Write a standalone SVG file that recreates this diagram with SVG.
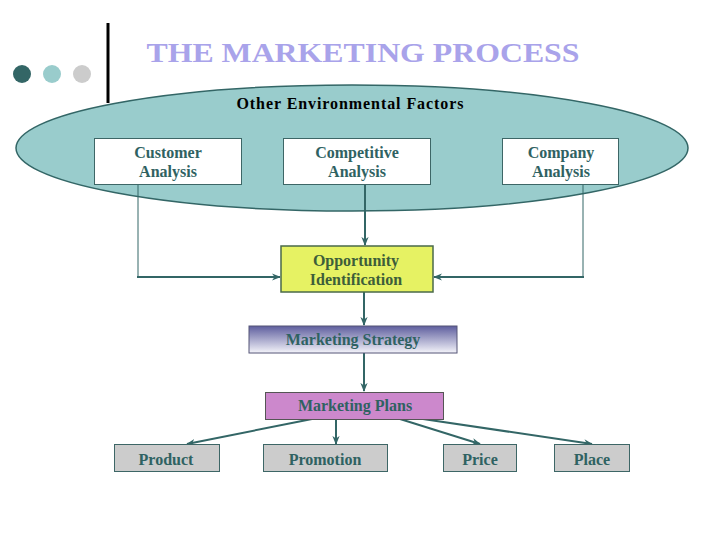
<svg xmlns="http://www.w3.org/2000/svg" width="720" height="540" viewBox="0 0 720 540">
<defs>
<linearGradient id="gStrat" x1="0" y1="0" x2="0" y2="1">
<stop offset="0" stop-color="#5e5e9e"/>
<stop offset="1" stop-color="#f4f4fa"/>
</linearGradient>
<marker id="arr" viewBox="0 0 10 10" refX="9" refY="5" markerWidth="9" markerHeight="9" markerUnits="userSpaceOnUse" orient="auto">
<path d="M0,1 L10,5 L0,9 L3,5 Z" fill="#336666"/>
</marker>
<style>
.t{font-family:"Liberation Serif","Times New Roman",serif;font-weight:bold;text-anchor:middle}
.lbl{font-size:16px;fill:#2f6262}
.box{stroke:#3d6666;stroke-width:1}
.c{stroke:#336666;fill:none}
</style>
</defs>
<rect width="720" height="540" fill="#ffffff"/>
<g id="decor">
<circle cx="22" cy="74" r="9" fill="#336666"/>
<circle cx="52" cy="74" r="9" fill="#99cccc"/>
<circle cx="82" cy="74" r="9" fill="#cccccc"/>
<line x1="108" y1="23" x2="108" y2="103" stroke="#000" stroke-width="3"/>
<text x="363" y="62" class="t" font-size="28" fill="#a9a3ea" textLength="433" lengthAdjust="spacingAndGlyphs">THE MARKETING PROCESS</text>
</g>
<g id="environment">
<ellipse cx="352" cy="148" rx="336" ry="63" fill="#99cccc" stroke="#336666" stroke-width="1.5"/>
<text x="350" y="109" class="t" font-size="16" fill="#000" textLength="227" lengthAdjust="spacing">Other Environmental Factors</text>
</g>
<g id="connectors">
<polyline class="c" stroke-width="1" points="138,185 138,277"/>
<line class="c" stroke-width="2" x1="137" y1="277" x2="280" y2="277" marker-end="url(#arr)"/>
<polyline class="c" stroke-width="1" points="583,185 583,277"/>
<line class="c" stroke-width="2" x1="584" y1="277" x2="434" y2="277" marker-end="url(#arr)"/>
<line class="c" stroke-width="2" x1="365" y1="185" x2="365" y2="245" marker-end="url(#arr)"/>
<line class="c" stroke-width="2" x1="364" y1="292" x2="364" y2="325" marker-end="url(#arr)"/>
<line class="c" stroke-width="2" x1="364" y1="353" x2="364" y2="391" marker-end="url(#arr)"/>
<line class="c" stroke-width="2" x1="312" y1="419" x2="187" y2="444" marker-end="url(#arr)"/>
<line class="c" stroke-width="2" x1="336" y1="419" x2="336" y2="444" marker-end="url(#arr)"/>
<line class="c" stroke-width="2" x1="400" y1="419" x2="480" y2="444" marker-end="url(#arr)"/>
<line class="c" stroke-width="2" x1="423" y1="419" x2="592" y2="444" marker-end="url(#arr)"/>
</g>
<g id="customer">
<rect class="box" x="94.5" y="138.5" width="147" height="46" fill="#ffffff"/>
<text class="t lbl" x="168" y="158">Customer</text>
<text class="t lbl" x="168" y="177">Analysis</text>
</g>
<g id="competitive">
<rect class="box" x="283.5" y="138.5" width="147" height="46" fill="#ffffff"/>
<text class="t lbl" x="357" y="158">Competitive</text>
<text class="t lbl" x="357" y="177">Analysis</text>
</g>
<g id="company">
<rect class="box" x="502.5" y="138.5" width="116" height="46" fill="#ffffff"/>
<text class="t lbl" x="561" y="158">Company</text>
<text class="t lbl" x="561" y="177">Analysis</text>
</g>
<g id="opportunity">
<rect x="281" y="246" width="152" height="46" fill="#e6f263" stroke="#4a6a4a" stroke-width="1.5"/>
<text class="t" font-size="16" fill="#3d5e3a" x="356" y="266">Opportunity</text>
<text class="t" font-size="16" fill="#3d5e3a" x="356" y="285">Identification</text>
</g>
<g id="strategy">
<rect x="249" y="326" width="208" height="27" fill="url(#gStrat)" stroke="#555577" stroke-width="1"/>
<text class="t lbl" x="353" y="345">Marketing Strategy</text>
</g>
<g id="plans">
<rect x="265.5" y="392.5" width="178" height="27" fill="#cc88cc" stroke="#555" stroke-width="1"/>
<text class="t lbl" x="355" y="411">Marketing Plans</text>
</g>
<g id="product">
<rect class="box" x="114.5" y="444.5" width="105" height="27" fill="#cccccc"/>
<text class="t lbl" x="166" y="465">Product</text>
</g>
<g id="promotion">
<rect class="box" x="263.5" y="444.5" width="124" height="27" fill="#cccccc"/>
<text class="t lbl" x="325" y="465">Promotion</text>
</g>
<g id="price">
<rect class="box" x="443.5" y="444.5" width="73" height="27" fill="#cccccc"/>
<text class="t lbl" x="480" y="465">Price</text>
</g>
<g id="place">
<rect class="box" x="554.5" y="444.5" width="75" height="27" fill="#cccccc"/>
<text class="t lbl" x="592" y="465">Place</text>
</g>
</svg>
